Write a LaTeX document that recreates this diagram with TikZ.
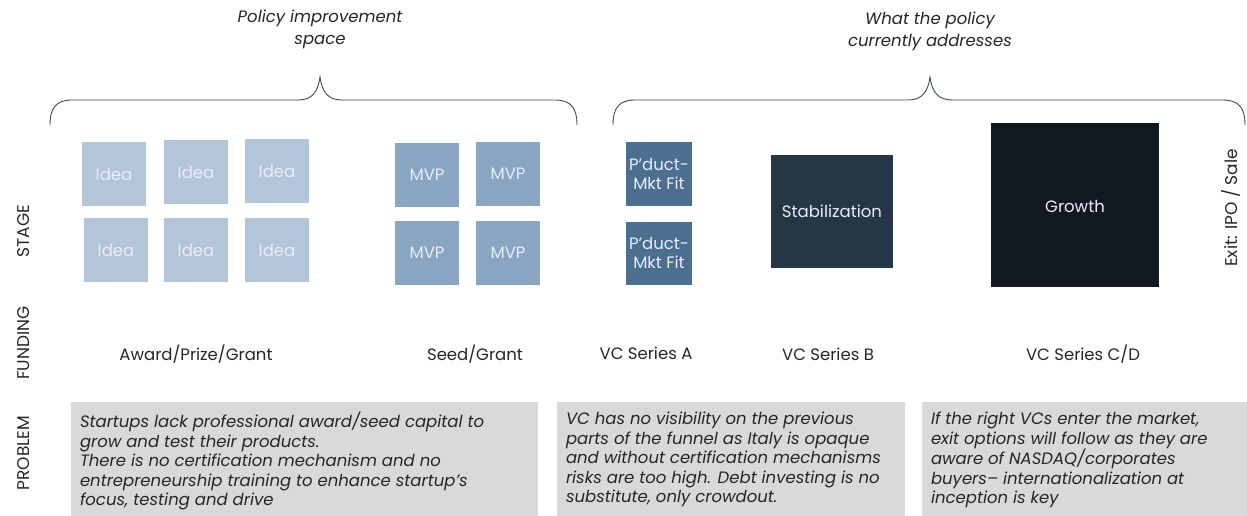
\documentclass[tikz,border=0pt]{standalone}
\usepackage{fontspec}
\setmainfont{Poppins}
\begin{document}
\begin{tikzpicture}[x=1pt,y=-1pt,
  every node/.style={inner sep=0pt, outer sep=0pt},
  boxfont/.style={text=white!92!blue, font=\fontsize{16.5}{19}\selectfont, align=center},
  sq/.style={rectangle, minimum width=#1, minimum height=#1, boxfont},
  idea/.style={sq=64, fill=ideacol},
  mvp/.style={sq=64, fill=mvpcol},
  pmf/.style={rectangle, minimum width=66, minimum height=63, fill=pmfcol, boxfont},
  lbl/.style={text=labcol, font=\fontsize{16.5}{19}\selectfont},
  side/.style={text=labcol, font=\fontsize{17}{19}\selectfont, rotate=90},
  title/.style={text=titcol, font=\fontsize{16.5}{22}\itshape\selectfont, align=center},
  prob/.style={text=probtext, align=left, anchor=north west, font=\fontsize{16.5}{19.5}\itshape\selectfont},
  brace/.style={draw=bracecol, line width=0.9pt}
]
\definecolor{ideacol}{HTML}{B2C6D7}
\definecolor{mvpcol}{HTML}{88A6C1}
\definecolor{pmfcol}{HTML}{4A6F8F}
\definecolor{stabcol}{HTML}{253746}
\definecolor{growcol}{HTML}{121820}
\definecolor{labcol}{HTML}{262626}
\definecolor{titcol}{HTML}{262626}
\definecolor{probcol}{HTML}{D9D9D9}
\definecolor{probtext}{HTML}{262626}
\definecolor{bracecol}{HTML}{3A4B5C}
\useasboundingbox (0,0) rectangle (1247,516);

% titles
\node[title] (t1) at (320,29) {Policy improvement\\space};
\node[title] (t2) at (930,31) {What the policy\\currently addresses};

% braces
\draw[brace] (50,125) .. controls (50,108) and (56,100) .. (72,100) -- (298,100) .. controls (312,100) and (318,92) .. (320,77) .. controls (322,92) and (328,100) .. (342,100) -- (555,100) .. controls (571,100) and (577,108) .. (577,125);
\draw[brace] (613,125) .. controls (613,108) and (619,100) .. (635,100) -- (908,100) .. controls (922,100) and (928,92) .. (930,77) .. controls (932,92) and (938,100) .. (952,100) -- (1223,100) .. controls (1239,100) and (1245,108) .. (1245,125);

% idea boxes
\node[idea] (i1) at (114,174) {Idea};
\node[idea] (i2) at (196,172) {Idea};
\node[idea] (i3) at (277,171) {Idea};
\node[idea] (i4) at (116,250) {Idea};
\node[idea] (i5) at (196,250) {Idea};
\node[idea] (i6) at (277,250) {Idea};

% MVP boxes
\node[mvp] (m1) at (427,175) {MVP};
\node[mvp] (m2) at (508,174) {MVP};
\node[mvp] (m3) at (427,253) {MVP};
\node[mvp] (m4) at (508,253) {MVP};

% product-market fit
\node[pmf] (p1) at (659,174) {P'duct-\\Mkt Fit};
\node[pmf] (p2) at (659,253) {P'duct-\\Mkt Fit};

% stabilization
\node[rectangle, minimum width=122, minimum height=113, fill=stabcol, boxfont] (s) at (832,211) {Stabilization};

% growth
\node[rectangle, minimum width=168, minimum height=164, fill=growcol] (g) at (1075,205) {};
\node[boxfont] (gl) at (1075,206) {Growth};

% exit
\node[side] (exit) at (1231,208) {Exit: IPO / Sale};

% side labels
\node[side] (stage) at (24,231) {STAGE};
\node[side] (fund) at (24,343) {FUNDING};
\node[side] (probl) at (24,453) {PROBLEM};

% funding labels
\node[lbl] (f1) at (196,354) {Award/Prize/Grant};
\node[lbl] (f2) at (475,354) {Seed/Grant};
\node[lbl] (f3) at (646,353) {VC Series A};
\node[lbl] (f4) at (828,354) {VC Series B};
\node[lbl] (f5) at (1083,354) {VC Series C/D};

% problem boxes
\fill[probcol] (71,402) rectangle (538,516);
\fill[probcol] (557,402) rectangle (905,516);
\fill[probcol] (922,402) rectangle (1247,516);
\node[prob] (b1) at (80,412) {Startups lack professional award/seed capital to\\grow and test their products.\\There is no certification mechanism and no\\entrepreneurship training to enhance startup's\\focus, testing and drive};
\node[prob] (b2) at (566,412) {VC has no visibility on the previous\\parts of the funnel as Italy is opaque\\and without certification mechanisms\\risks are too high. Debt investing is no\\substitute, only crowdout.};
\node[prob] (b3) at (931,412) {If the right VCs enter the market,\\exit options will follow as they are\\aware of NASDAQ/corporates\\buyers-- internationalization at\\inception is key};
\end{tikzpicture}
\end{document}
